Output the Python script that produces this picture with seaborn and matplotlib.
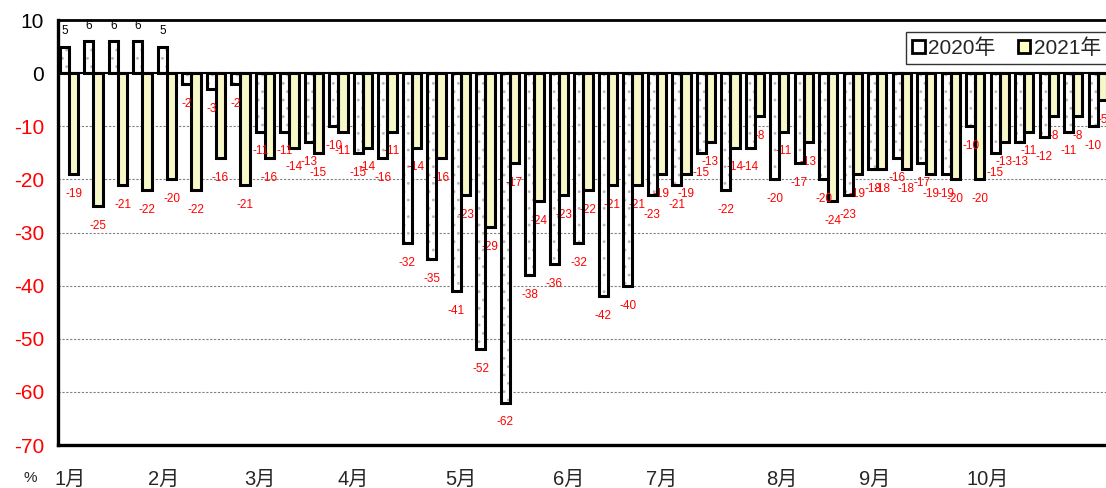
import numpy as np
import pandas as pd
import matplotlib.pyplot as plt
import seaborn as sns
from matplotlib.patches import Patch, Rectangle

# weekly change (%)
y2020 = [5, 6, 6, 6, 5, -2, -3, -2, -11, -11, -13, -10, -15, -16, -32, -35, -41, -52, -62, -38,
         -36, -32, -42, -40, -23, -21, -15, -22, -14, -20, -17, -20, -23, -18, -16, -17, -19, -10,
         -15, -13, -12, -11, -10]
y2021 = [-19, -25, -21, -22, -20, -22, -16, -21, -16, -14, -15, -11, -14, -11, -14, -16, -23, -29, -17, -24,
         -23, -22, -21, -21, -19, -19, -13, -14, -8, -11, -13, -24, -19, -18, -18, -19, -20, -20,
         -13, -11, -8, -8, -5]
months = ["1月", "2月", "3月", "4月", "5月", "6月", "7月", "8月", "9月", "10月"]
month_pos = [0.04, 3.88, 7.8, 11.6, 16.0, 20.4, 24.2, 29.1, 32.9, 37.5]
years = ["2020年", "2021年"]
colors = {"2020年": "white", "2021年": "#FFFFC0"}

n = len(y2020)
df = pd.DataFrame({
    "week": list(range(n)) * 2,
    "value": y2020 + y2021,
    "year": [years[0]] * n + [years[1]] * n,
})

sns.set_style("white")
plt.rcParams["font.family"] = ["Liberation Sans", "Noto Sans CJK JP", "DejaVu Sans"]
plt.rcParams["hatch.linewidth"] = 0.8

fig = plt.figure(figsize=(11.06, 4.88), dpi=100)
ax = fig.add_axes([0.0524, 0.088, 0.9476, 0.871])

sns.barplot(data=df, x="week", y="value", hue="year", hue_order=years, palette=colors,
            width=0.74, edgecolor="black", linewidth=2.2, legend=False, ax=ax, zorder=3)

# dotted fill on the 2020 bars: grey hatch, black outline drawn on top
for p in ax.containers[0]:
    p.set_edgecolor("#b8b8b8")
    p.set_linewidth(0)
    p.set_hatch("..")
    ax.add_patch(Rectangle(p.get_xy(), p.get_width(), p.get_height(), fill=False,
                           edgecolor="black", linewidth=2.2, zorder=3.5))

# value labels
for cont in ax.containers:
    for p in cont:
        v = p.get_height()
        xc = p.get_x() + p.get_width() / 2
        if v >= 0:
            ax.annotate(f"{v:.0f}", (xc, v), xytext=(0, 7), textcoords="offset points",
                        ha="center", va="bottom", fontsize=8.5, color="black")
        else:
            ax.annotate(f"-{abs(v):.0f}", (xc, v), xytext=(0, -10), textcoords="offset points",
                        ha="center", va="top", fontsize=8.5, color="red")

ax.set_ylim(-70, 10)
ax.set_xlim(-0.45, 42.33)
ax.set_yticks(range(-70, 11, 10))
ax.set_yticklabels([str(t) for t in range(-70, 11, 10)], fontsize=15)
for lab, t in zip(ax.get_yticklabels(), range(-70, 11, 10)):
    lab.set_color("black" if t >= 0 else "red")
ax.tick_params(axis="y", length=4, width=1.2, pad=6)

ax.set_xticks(month_pos)
ax.set_xticklabels(months, fontsize=14.5)
ax.tick_params(axis="x", length=0, pad=18)
ax.set_xlabel("")
ax.set_ylabel("")

for y in range(-60, 0, 10):
    ax.axhline(y, color="#808080", lw=0.8, ls=(0, (2, 1.5)), zorder=1)
ax.axhline(0, color="black", lw=1.5, zorder=4)

ax.spines["right"].set_visible(False)
ax.spines["left"].set_linewidth(2.4)
ax.spines["bottom"].set_linewidth(2.4)
ax.spines["top"].set_linewidth(2)
for s in ["left", "bottom", "top"]:
    ax.spines[s].set_color("black")

handles = [Patch(facecolor=colors[y], edgecolor="black", linewidth=2, label=y) for y in years]
leg = ax.legend(handles=handles, loc="upper left", bbox_to_anchor=(0.809, 0.972), ncol=2,
                fontsize=15, frameon=True, fancybox=False, edgecolor="black",
                handlelength=0.6, handleheight=0.6, handletextpad=0.15, columnspacing=1.1,
                borderpad=0.3, borderaxespad=0)
leg.get_frame().set_linewidth(1)

fig.text(30 / 1106, 1 - 478 / 488, "%", fontsize=11, ha="center", va="center")

fig.savefig("out.png", dpi=100)
